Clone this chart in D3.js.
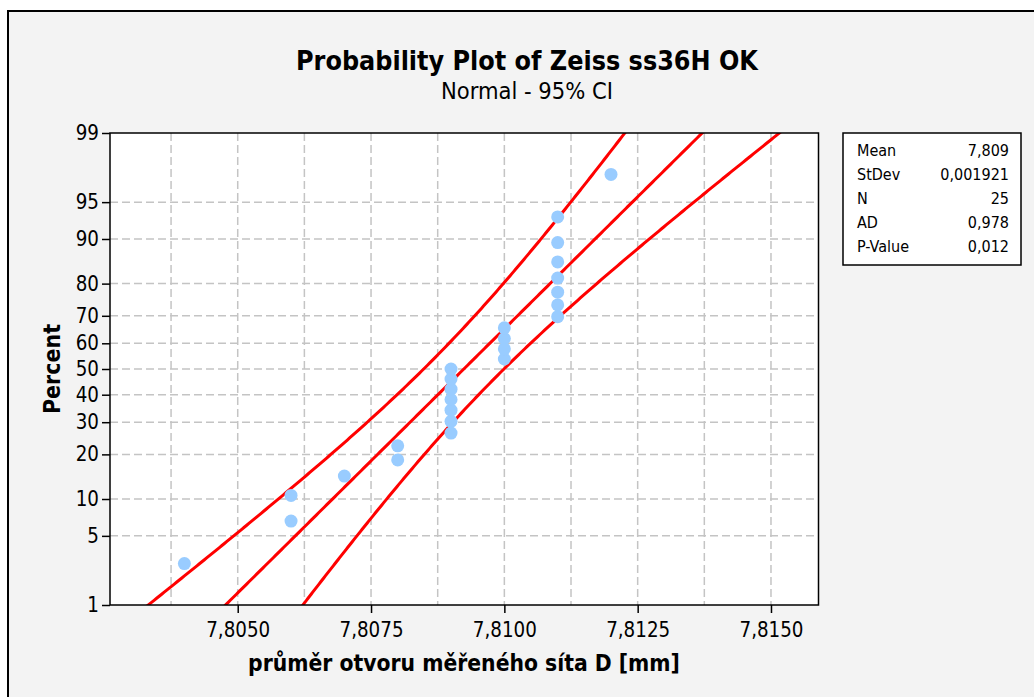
<!DOCTYPE html>
<html>
<head>
<meta charset="utf-8">
<script src="https://cdn.jsdelivr.net/npm/d3@7.9.0/dist/d3.min.js"></script>
<style>
  body { margin: 0; background: #fff; }
  svg { display: block; }
  text { font-family: "DejaVu Sans Condensed", "DejaVu Sans", sans-serif; font-stretch: condensed; fill: #000; }
</style>
</head>
<body>
<svg id="chart" width="1034" height="697"></svg>
<script>
// Data (diameters, sorted)
const diameters = [
  7.8040,
  7.8060, 7.8060,
  7.8070,
  7.8080, 7.8080,
  7.8090, 7.8090, 7.8090, 7.8090, 7.8090, 7.8090, 7.8090,
  7.8100, 7.8100, 7.8100, 7.8100,
  7.8110, 7.8110, 7.8110, 7.8110, 7.8110, 7.8110, 7.8110,
  7.8120
];
const percentTicks = [1, 5, 10, 20, 30, 40, 50, 60, 70, 80, 90, 95, 99];
const xTicks = [7.8050, 7.8075, 7.8100, 7.8125, 7.8150];
const xGrid = [7.80375, 7.8050, 7.80625, 7.8075, 7.80875, 7.8100, 7.81125, 7.8125, 7.81375, 7.8150];
const statLabels = ['Mean', 'StDev', 'N', 'AD', 'P-Value'];
const statValues = ['7,809', '0,001921', '25', '0,978', '0,012'];

const titleText = 'Probability Plot of Zeiss ss36H OK';
const subtitleText = 'Normal - 95% CI';
const xLabelText = 'průměr otvoru měřeného síta D [mm]';
const yLabelText = 'Percent';

// inverse standard normal (Acklam)
function qnorm(p) {
  const a = [-39.69683028665376, 220.9460984245205, -275.9285104469687, 138.3577518672690, -30.66479806614716, 2.506628277459239];
  const b = [-54.47609879822406, 161.5858368580409, -155.6989798598866, 66.80131188771972, -13.28068155288572];
  const c = [-0.007784894002430293, -0.3223964580411365, -2.400758277161838, -2.549732539343734, 4.374664141464968, 2.938163982698783];
  const d = [0.007784695709041462, 0.3224671290700398, 2.445134137142996, 3.754408661907416];
  const pl = 0.02425;
  let q, r;
  if (p < pl) {
    q = Math.sqrt(-2 * Math.log(p));
    return (((((c[0]*q+c[1])*q+c[2])*q+c[3])*q+c[4])*q+c[5]) / ((((d[0]*q+d[1])*q+d[2])*q+d[3])*q+1);
  }
  if (p > 1 - pl) {
    q = Math.sqrt(-2 * Math.log(1 - p));
    return -(((((c[0]*q+c[1])*q+c[2])*q+c[3])*q+c[4])*q+c[5]) / ((((d[0]*q+d[1])*q+d[2])*q+d[3])*q+1);
  }
  q = p - 0.5;
  r = q * q;
  return (((((a[0]*r+a[1])*r+a[2])*r+a[3])*r+a[4])*r+a[5])*q / (((((b[0]*r+b[1])*r+b[2])*r+b[3])*r+b[4])*r+1);
}

const svg = d3.select('#chart');
const fmt = d3.formatLocale({ decimal: ',', thousands: ' ', grouping: [3], currency: ['', ''] }).format('.4f');

// fit text to a width measured on the picture
function fitWidth(sel, target) {
  let w = sel.node().getComputedTextLength();
  let fs = parseFloat(sel.attr('font-size'));
  sel.attr('font-size', fs * target / w);
}

// outer frame
svg.append('rect')
  .attr('x', 8).attr('y', 11)
  .attr('width', 1060).attr('height', 720)
  .attr('fill', '#f3f3f3')
  .attr('stroke', '#000')
  .attr('stroke-width', 2);

const plot = { left: 110, right: 818.5, top: 133, bottom: 605 };

let x = d3.scaleLinear().domain([7.802605, 7.815891]).range([plot.left, plot.right]);
let y = d3.scaleLinear().domain([qnorm(0.01), qnorm(0.99)]).range([plot.bottom, plot.top]);

// plot background
svg.append('rect')
  .attr('x', plot.left).attr('y', plot.top)
  .attr('width', plot.right - plot.left).attr('height', plot.bottom - plot.top)
  .attr('fill', '#fff');

svg.append('clipPath').attr('id', 'clip')
  .append('rect')
  .attr('x', plot.left).attr('y', plot.top)
  .attr('width', plot.right - plot.left).attr('height', plot.bottom - plot.top);

// Grid
let grid = svg.append('g')
  .attr('stroke', '#c4c4c4')
  .attr('stroke-width', 1.5)
  .attr('stroke-dasharray', '8,4');

percentTicks.filter((p) => p > 1 && p < 99).forEach((p) => {
  grid.append('line')
    .attr('x1', plot.left).attr('x2', plot.right)
    .attr('y1', y(qnorm(p / 100))).attr('y2', y(qnorm(p / 100)));
});
xGrid.forEach((v) => {
  grid.append('line')
    .attr('x1', x(v)).attr('x2', x(v))
    .attr('y1', plot.top).attr('y2', plot.bottom);
});

// Fit line and 95% CI bands from the sample
let n = diameters.length;
let mu = d3.mean(diameters);
let sd = d3.deviation(diameters);
let zs = d3.range(-2.6, 2.61, 0.02);
let fitLine = zs.map((z) => [mu + z * sd, z]);
let halfWidth = (z) => 1.96 * sd * Math.sqrt(1 / n + z * z / (2 * n));
let lowerBand = zs.map((z) => [mu + z * sd - halfWidth(z), z]);
let upperBand = zs.map((z) => [mu + z * sd + halfWidth(z), z]);

let line = d3.line().x((d) => x(d[0])).y((d) => y(d[1]));
let lines = svg.append('g').attr('clip-path', 'url(#clip)');
[upperBand, fitLine, lowerBand].forEach((band) => {
  lines.append('path')
    .attr('d', line(band))
    .attr('fill', 'none')
    .attr('stroke', '#ff0000')
    .attr('stroke-width', 3);
});

// Points (median ranks)
svg.append('g')
  .selectAll('circle')
  .data(diameters)
  .join('circle')
  .attr('cx', (d) => x(d))
  .attr('cy', (d, i) => y(qnorm((i + 1 - 0.3) / (n + 0.4))))
  .attr('r', 6.5)
  .attr('fill', '#99ccff');

// plot border
svg.append('rect')
  .attr('x', plot.left).attr('y', plot.top)
  .attr('width', plot.right - plot.left).attr('height', plot.bottom - plot.top)
  .attr('fill', 'none')
  .attr('stroke', '#000')
  .attr('stroke-width', 1.5);

// Axes
let yAxis = d3.axisLeft(y)
  .tickValues(percentTicks.map((p) => qnorm(p / 100)))
  .tickFormat((d, i) => percentTicks[i])
  .tickSize(8)
  .tickSizeOuter(0)
  .tickPadding(3);
let gy = svg.append('g').attr('transform', `translate(${plot.left},0)`).call(yAxis);

let xAxis = d3.axisBottom(x)
  .tickValues(xTicks)
  .tickFormat((d) => fmt(d))
  .tickSize(8)
  .tickSizeOuter(0)
  .tickPadding(10);
let gx = svg.append('g').attr('transform', `translate(0,${plot.bottom})`).call(xAxis);

[gx, gy].forEach((g) => {
  g.select('.domain').remove();
  g.selectAll('line').attr('stroke', '#000').attr('stroke-width', 1.5);
  g.selectAll('text')
    .attr('font-family', null)
    .attr('font-size', 17)
    .attr('fill', '#000');
});
fitWidth(gx.select('text'), 64);
let tickSize = gx.select('text').attr('font-size');
gx.selectAll('text').attr('font-size', tickSize);
gy.selectAll('text').attr('font-size', tickSize);

// Titles
let title = svg.append('text')
  .attr('x', 527).attr('y', 70)
  .attr('text-anchor', 'middle')
  .attr('font-weight', 'bold')
  .attr('font-size', 24)
  .text(titleText);
fitWidth(title, 462);

let subtitle = svg.append('text')
  .attr('x', 527).attr('y', 99)
  .attr('text-anchor', 'middle')
  .attr('font-size', 18)
  .text(subtitleText);
fitWidth(subtitle, 172);

let xLabel = svg.append('text')
  .attr('x', 464).attr('y', 671)
  .attr('text-anchor', 'middle')
  .attr('font-weight', 'bold')
  .attr('font-size', 20)
  .text(xLabelText);
fitWidth(xLabel, 432);

let yLabel = svg.append('text')
  .attr('transform', 'translate(60,369) rotate(-90)')
  .attr('text-anchor', 'middle')
  .attr('font-weight', 'bold')
  .attr('font-size', 20)
  .text(yLabelText);
fitWidth(yLabel, 90);

// Stats legend
let legend = svg.append('g');
legend.append('rect')
  .attr('x', 843).attr('y', 133)
  .attr('width', 178).attr('height', 132)
  .attr('fill', '#fff')
  .attr('stroke', '#000')
  .attr('stroke-width', 1.5);

let rowY = d3.scalePoint().domain(statLabels).range([156, 252]);
statLabels.forEach((label, i) => {
  legend.append('text')
    .attr('x', 857).attr('y', rowY(label))
    .attr('font-size', 16)
    .text(label);
  legend.append('text')
    .attr('x', 1009).attr('y', rowY(label))
    .attr('text-anchor', 'end')
    .attr('font-size', 16)
    .text(statValues[i]);
});
</script>
</body>
</html>
